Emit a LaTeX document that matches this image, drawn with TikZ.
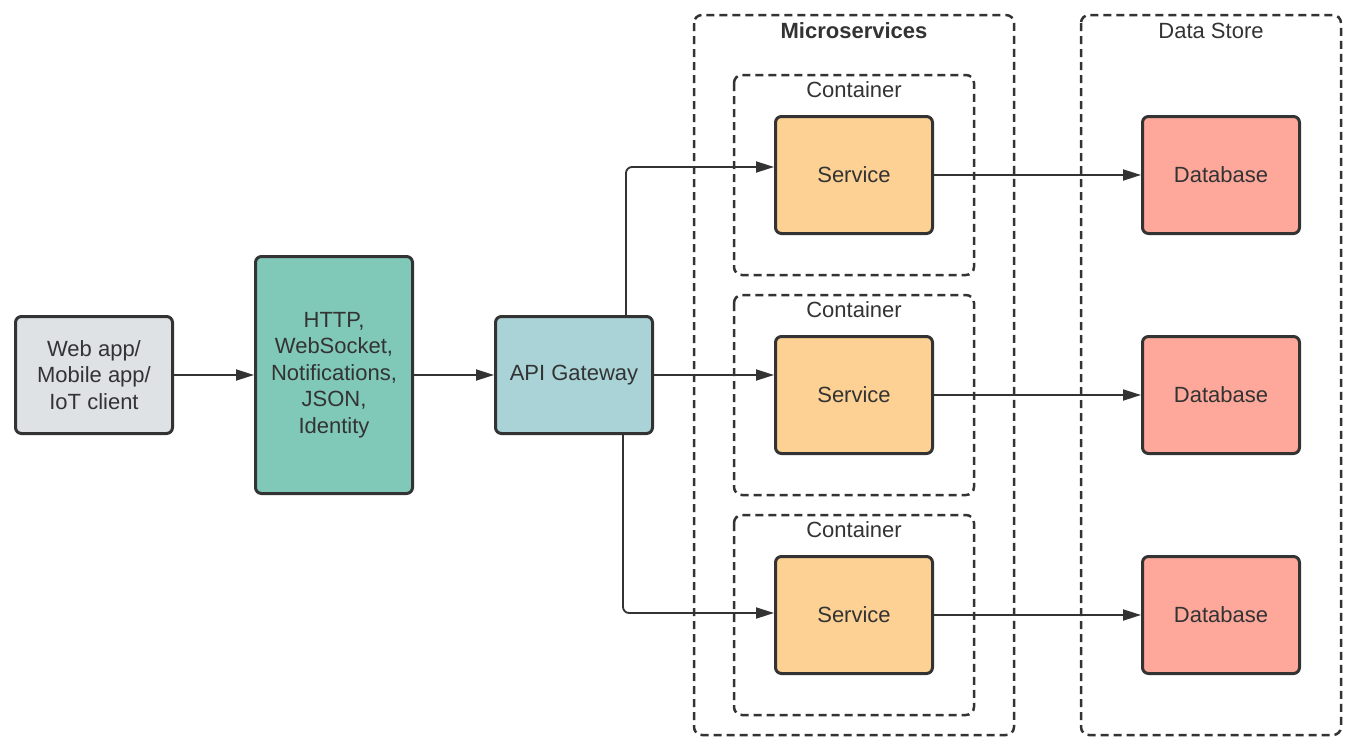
\documentclass[tikz,border=0pt]{standalone}
\usepackage{fontspec}
\setmainfont{Liberation Sans}
\usetikzlibrary{arrows.meta}
\definecolor{ink}{HTML}{333333}
\definecolor{clientfill}{HTML}{DEE2E5}
\definecolor{protofill}{HTML}{80C8B8}
\definecolor{gwfill}{HTML}{A9D3D6}
\definecolor{svcfill}{HTML}{FDD093}
\definecolor{dbfill}{HTML}{FDA89A}
\tikzset{
  box/.style={draw=ink, line width=3pt, rounded corners=6pt, minimum width=157pt, minimum height=117pt,
    align=center, text=ink, font=\fontsize{22}{26.5}\selectfont, inner sep=0pt},
  groupbox/.style={draw=ink, line width=2.5pt, dash pattern=on 8pt off 5pt, rounded corners=8pt},
  grouplabel/.style={text=ink, font=\fontsize{22}{26.5}\selectfont, inner sep=0pt},
  conn/.style={draw=ink, line width=1.8pt, -{Triangle[length=18pt,width=11pt]}, rounded corners=6pt},
}
\begin{document}
\begin{tikzpicture}[x=1pt,y=-1pt]
\useasboundingbox[fill=white] (0,0) rectangle (1353,747);
% group frames
\draw[groupbox] (694,15) rectangle (1014,735);
\node[grouplabel, font=\fontsize{22}{26.5}\selectfont\bfseries] (mslabel) at (854,31) {Microservices};
\draw[groupbox] (1081,15) rectangle (1341,735);
\node[grouplabel] (dslabel) at (1211,31) {Data Store};
\draw[groupbox] (734,75) rectangle (974,275);
\node[grouplabel] (c1label) at (854,90) {Container};
\draw[groupbox] (734,295) rectangle (974,495);
\node[grouplabel] (c2label) at (854,310) {Container};
\draw[groupbox] (734,515) rectangle (974,715);
\node[grouplabel] (c3label) at (854,530) {Container};
% nodes
\node[box, fill=clientfill] (client) at (94,375) {Web app/\\Mobile app/\\IoT client};
\node[box, fill=protofill, minimum height=237pt] (proto) at (334,375) {HTTP,\\WebSocket,\\Notifications,\\JSON,\\Identity};
\node[box, fill=gwfill] (gw) at (574,375) {API Gateway};
\node[box, fill=svcfill] (s1) at (854,175) {Service};
\node[box, fill=svcfill] (s2) at (854,395) {Service};
\node[box, fill=svcfill] (s3) at (854,615) {Service};
\node[box, fill=dbfill] (d1) at (1221,175) {Database};
\node[box, fill=dbfill] (d2) at (1221,395) {Database};
\node[box, fill=dbfill] (d3) at (1221,615) {Database};
% connectors
\draw[conn] (client.east) -- (proto.west);
\draw[conn] (proto.east) -- (gw.west);
\draw[conn] (gw.east) -- (s2.west |- gw.east);
\draw[conn] ([xshift=52pt]gw.north) |- ([yshift=8pt]s1.west);
\draw[conn] ([xshift=49pt]gw.south) |- ([yshift=2pt]s3.west);
\draw[conn] (s1.east) -- (d1.west);
\draw[conn] (s2.east) -- (d2.west);
\draw[conn] (s3.east) -- (d3.west);
\end{tikzpicture}
\end{document}
